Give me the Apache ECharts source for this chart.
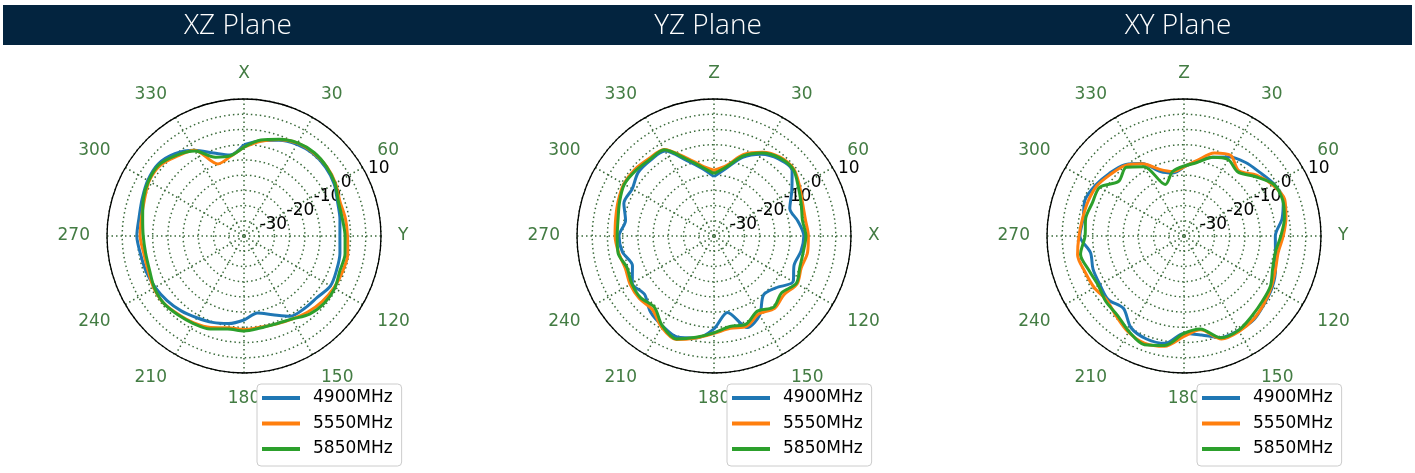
<!DOCTYPE html>
<html>
<head>
<meta charset="utf-8">
<script src="https://cdn.jsdelivr.net/npm/echarts@6/dist/echarts.min.js"></script>
<style>
  html, body { margin: 0; padding: 0; background: #fff; }
  #chart { width: 1415px; height: 473px; }
</style>
</head>
<body>
<div id="chart"></div>
<script>
// angles in degrees, clockwise from the top
const angles = [0, 10, 20, 30, 40, 50, 60, 70, 80, 90, 100, 110, 120, 130, 140, 150, 160, 170, 180,
  190, 200, 210, 220, 230, 240, 250, 260, 270, 280, 290, 300, 310, 320, 330, 340, 350, 360]

const planeTitles = ['XZ Plane', 'YZ Plane', 'XY Plane']
const axisNames = [['X', 'Y'], ['Z', 'X'], ['Z', 'Y']]
const freqNames = ['4900MHz', '5550MHz', '5850MHz']
const radiusLabels = [-30, -20, -10, 0, 10]

// gain in dB
const xz4900 = [-5, -3.2, -1.5, -0.2, 0.3, 0, -0.8, -2.3, -3, -3.5, -3, -2.6, -2.2, -3.6, -4, -4.6, -7.5, -9.3, -7.4,
  -5.8, -4.8, -4, -2.9, -2, -1.3, -0.8, -0.5, 0.2, 0, 0.6, 1.5, 1.8, 0.3, -2.5, -6, -8, -5]
const xz5550 = [-5.8, -3.4, -1.3, 0.2, 0.6, 0.5, -0.3, -1.5, -1.2, -1, -0.4, -0.6, -0.9, -1.5, -2.4, -3.5, -4.2, -4.6, -4.3,
  -4.4, -3, -2, -1.4, -0.6, -0.8, -1.5, -1.6, -0.9, -0.8, -0.2, 1, 1, -0.8, -2.5, -9.8, -8.6, -5.8]
const xz5850 = [-5.8, -3, -1.2, 0.3, 0.8, 0.4, -0.5, -2, -2.2, -1.8, -1.3, -1.5, -0.6, -0.6, -1.5, -3.5, -4.3, -4.3, -3.8,
  -4, -2.5, -1.8, -1.2, -0.6, -1, -2, -2.2, -1.9, -1.2, 0.2, 1.2, 1.4, -0.4, -2.8, -7.5, -8.3, -5.8]

const yz4900 = [-15.5, -12.5, -7.5, -4, -2, -1.5, -5.5, -8.5, -7, -5.5, -6, -7, -5, -8.5, -9.7, -5, -3, -9.5, -4.5,
  -1, 0.3, -1, -2.5, -5.2, -4, -6.5, -4.5, -3.8, -5.5, -3.5, -4, -2.5, -2.5, -2.8, -8.6, -12.5, -15.5]
const yz5550 = [-13.4, -11.5, -6.5, -3.2, -1.2, -0.8, -2.5, -4, -4.5, -4, -3.8, -4.5, -3.5, -5, -4, -5.5, -3.5, -4.2, -3,
  -1, 1.2, -0.5, -3.5, -3, -3.2, -4, -3.2, -2.5, -2.2, -1.5, -0.8, -1, -1.8, -2.2, -7.5, -11.5, -13.4]
const yz5850 = [-14.5, -12, -7, -3.5, -1.5, -1, -3, -4.5, -5.5, -4.8, -5.2, -5, -3.8, -6, -4.5, -6.5, -4.2, -4.8, -3.2,
  -1.2, 1, -1, -4.5, -3.5, -3.8, -4.6, -3, -3.2, -3, -2, -1, -1.5, -2.2, -2.3, -8, -12, -14.5]

const xy4900 = [-12.3, -10, -7.5, -5, -3.5, -2.5, -0.9, -0.3, -2.3, -5, -4.5, -3, -1.5, -0.5, 0.8, 0.8, 0.5, -2, -3,
  0.8, 1, -0.2, -4, -2.5, -3.1, -3.2, -3.8, -0.8, -1.4, -0.4, -1.5, -3, -4.5, -7.5, -12.5, -14, -12.3]
const xy5550 = [-12.3, -9.8, -6, -4.4, -7, -3.9, -1.4, 0.2, -1, -2.4, -3.6, -3, -1.8, -0.6, 0.6, 1.2, 1, -3.7, -2,
  1.8, 2.5, 1.5, -0.5, -2, -1, -0.4, 0.5, -0.5, -1.2, -1.5, -2, -3.5, -4.8, -7.6, -11.7, -13.5, -12.3]
const xy5850 = [-12, -10.5, -7.5, -6, -7.5, -4.6, -1, -0.5, -1.5, -3.2, -4.5, -4, -2.2, -1.5, -0.5, 0.8, 0.6, -4, -3,
  1.5, 3, 1.2, -1, -1.5, -2.5, -1.8, -0.5, -2.5, -2.2, -3, -3, -7, -5.5, -8.7, -17, -13.5, -12]

const planeData = [
  [xz4900, xz5550, xz5850],
  [yz4900, yz5550, yz5850],
  [xy4900, xy5550, xy5850]
]
const colors = ['#1f77b4', '#ff7f0e', '#2ca02c']

const centersX = [244, 714, 1184]
const centerY = 236
const R = 137
const gridStyle = { color: '#3a6a3a', width: 1.5, type: [1.5, 3] }
const font = 'DejaVu Sans'

let polar = []
let angleAxis = []
let radiusAxis = []
let legend = []
let series = []
let graphic = [{
  type: 'rect',
  z: 0,
  shape: { x: 3, y: 5, width: 1409, height: 40 },
  style: { fill: '#03243f' }
}]

centersX.forEach((cx, i) => {
  polar.push({ center: [cx, centerY], radius: R })
  angleAxis.push({
    polarIndex: i,
    type: 'value',
    min: 0,
    max: 360,
    interval: 30,
    startAngle: 90,
    clockwise: true,
    axisLine: { show: true, lineStyle: { color: '#000', width: 1.3 } },
    axisTick: { show: false },
    axisLabel: {
      color: '#437c43',
      fontSize: 17,
      fontFamily: font,
      margin: 17,
      formatter: function (v) {
        if (v === 0) return axisNames[i][0]
        if (v === 90) return axisNames[i][1]
        if (v === 360) return ''
        return String(v)
      }
    },
    splitLine: { show: true, lineStyle: gridStyle }
  })
  radiusAxis.push({
    polarIndex: i,
    type: 'value',
    min: -35,
    max: 10,
    interval: 5,
    axisLine: { show: false },
    axisTick: { show: false },
    axisLabel: { show: false },
    splitLine: { show: true, lineStyle: gridStyle }
  })
  legend.push({
    orient: 'vertical',
    left: cx + 13,
    top: 384,
    data: freqNames,
    icon: 'rect',
    itemWidth: 38,
    itemHeight: 4,
    itemGap: 7.5,
    selectedMode: false,
    padding: [5, 9, 8, 5],
    borderColor: '#cccccc',
    borderWidth: 1,
    borderRadius: 4,
    backgroundColor: '#ffffff',
    textStyle: { fontSize: 17, fontFamily: font, color: '#000', lineHeight: 18, padding: [0, 0, 0, 8] }
  })
  graphic.push({
    type: 'text',
    z: 1,
    x: cx - 6,
    y: 26,
    style: {
      text: planeTitles[i],
      fill: '#ffffff',
      fontSize: 28,
      fontWeight: 300,
      fontFamily: '"Open Sans", "Noto Sans", sans-serif',
      align: 'center',
      verticalAlign: 'middle'
    }
  })
  planeData[i].forEach((vals, k) => {
    series.push({
      name: freqNames[k],
      type: 'line',
      coordinateSystem: 'polar',
      polarIndex: i,
      showSymbol: false,
      smooth: 0.3,
      color: colors[k],
      lineStyle: { width: 3 },
      data: angles.map((a, n) => [vals[n], a])
    })
  })
})

// second set of polar systems only to place the radius labels on a slanted ray
centersX.forEach((cx, i) => {
  polar.push({ center: [cx, centerY], radius: R })
  angleAxis.push({
    polarIndex: i + 3,
    type: 'value',
    min: 0,
    max: 360,
    startAngle: 27,
    show: false
  })
  radiusAxis.push({
    polarIndex: i + 3,
    type: 'value',
    min: -35,
    max: 10,
    interval: 5,
    axisLine: { show: false },
    axisTick: { show: false },
    splitLine: { show: false },
    axisLabel: {
      show: true,
      margin: -4,
      align: 'left',
      verticalAlign: 'bottom',
      color: '#000',
      fontSize: 17,
      fontFamily: font,
      formatter: function (v) {
        return radiusLabels.indexOf(v) >= 0 ? String(v) : ''
      }
    }
  })
})

let myChart = echarts.init(document.getElementById('chart'))
myChart.setOption({
  animation: false,
  backgroundColor: '#ffffff',
  polar: polar,
  angleAxis: angleAxis,
  radiusAxis: radiusAxis,
  legend: legend,
  graphic: graphic,
  series: series
})
</script>
</body>
</html>
